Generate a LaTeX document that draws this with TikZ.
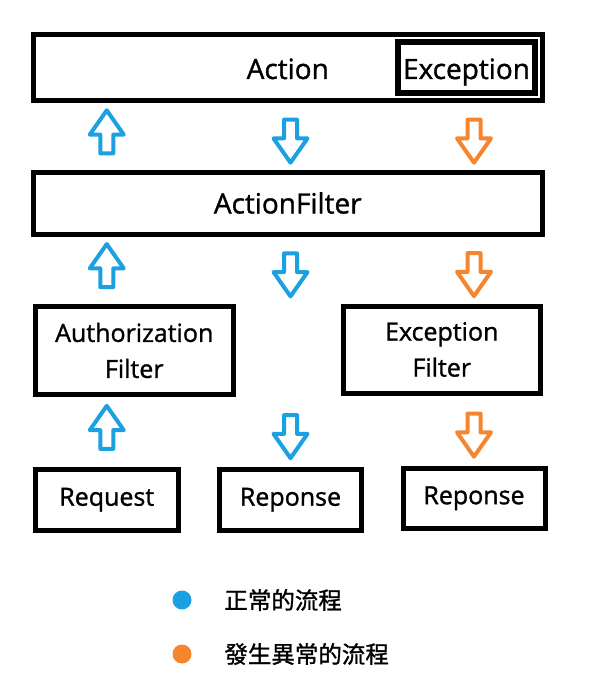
\documentclass[tikz,border=0pt]{standalone}
\usepackage{fontspec}
\setmainfont{Open Sans}[RawFeature={embolden=1.2}]
\newfontfamily\cjkfont{Noto Sans CJK TC}[RawFeature={embolden=1.2}]
\usetikzlibrary{shapes.arrows, positioning}
\definecolor{Normal_Blue}{HTML}{1BA1E2}
\definecolor{Error_Orange}{HTML}{F5862F}

\tikzset{
    box/.style={draw, line width=5pt, inner sep=0pt, align=center, font=\fontsize{25}{36}\selectfont},
    big/.style={font=\fontsize{28}{32}\selectfont},
    hollow/.style={single arrow, draw=#1, line width=4pt, line join=round, fill=white,
        minimum height=43pt, inner xsep=0pt, inner ysep=4.5pt,
        single arrow head extend=10.5pt, single arrow tip angle=70, allow upside down},
    flow/.style={to path={-- (\tikztotarget) node[midway, sloped, hollow=#1] {}}},
    dot/.style={circle, fill=#1, minimum size=19pt, inner sep=0pt},
    legend/.style={inner sep=0pt, font=\cjkfont\fontsize{23.5}{28}\selectfont}
}

\begin{document}
\begin{tikzpicture}[x=1pt, y=-1pt]
    \useasboundingbox (0,0) rectangle (590,698);

    % Boxes
    \node[box, minimum width=508.5pt, minimum height=66.5pt] (act) at (287.75,67.75) {};
    \node[big, anchor=base] (acttext) at (287.75,79) {Action};
    \node[box, line width=5.5pt, minimum width=137pt, minimum height=51pt] (exc) at (466.5,67.5) {};
    \node[big, anchor=base] (exctext) at (466.5,79) {Exception};
    \node[box, big, minimum width=508.5pt, minimum height=62pt] (af) at (287.75,203) {ActionFilter};
    \node[box, minimum width=198.5pt, minimum height=88pt] (auth) at (134.25,350.5) {Authorization\\Filter};
    \node[box, minimum width=197.5pt, minimum height=87pt] (exf) at (441.75,349.5) {Exception\\Filter};
    \node[box, minimum width=142.5pt, minimum height=60.5pt] (req) at (106.75,499.75) {Request};
    \node[box, minimum width=142pt, minimum height=60.5pt] (rsp) at (290.5,499.75) {Reponse};
    \node[box, minimum width=142pt, minimum height=60.5pt] (err) at (474,498.25) {Reponse};

    % Normal flow
    \path (req.north) to[flow=Normal_Blue] (req |- auth.south);
    \path (req |- auth.north) to[flow=Normal_Blue] (req |- af.south);
    \path (req |- af.north) to[flow=Normal_Blue] (req |- act.south);
    \path (rsp |- act.south) to[flow=Normal_Blue] (rsp |- af.north);
    \path (rsp |- af.south) to[flow=Normal_Blue] (rsp |- auth.north);
    \path (rsp |- auth.south) to[flow=Normal_Blue] (rsp.north);

    % Exception flow
    \path (err |- act.south) to[flow=Error_Orange] (err |- af.north);
    \path (err |- af.south) to[flow=Error_Orange] (err |- exf.north);
    \path (err |- exf.south) to[flow=Error_Orange] (err.north);

    % Legend
    \node[dot=Normal_Blue] (dotn) at (182,600) {};
    \node[legend, right=32.5pt of dotn] (legn) {正常的流程};
    \node[dot=Error_Orange] (dote) at (182,654) {};
    \node[legend, right=32.5pt of dote] (lege) {發生異常的流程};
\end{tikzpicture}
\end{document}
